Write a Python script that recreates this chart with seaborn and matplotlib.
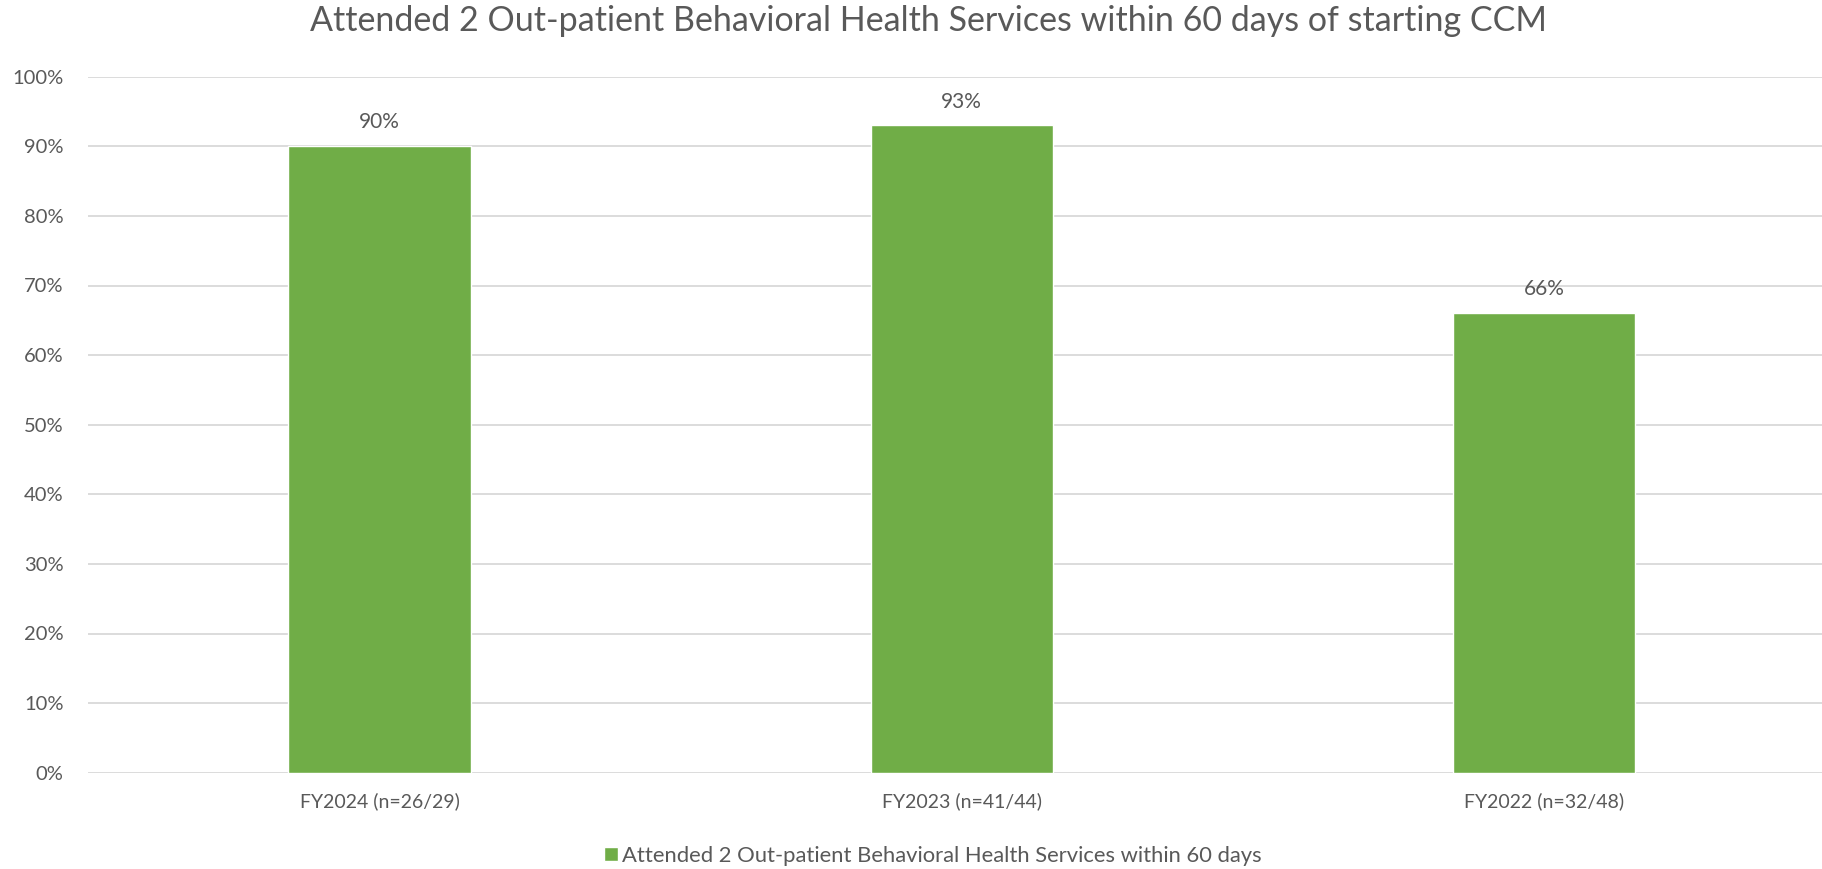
import matplotlib
matplotlib.use("Agg")
import matplotlib.pyplot as plt
import seaborn as sns
import pandas as pd
from matplotlib.ticker import PercentFormatter, MultipleLocator

# Chart data
categories = ["FY2024 (n=26/29)", "FY2023 (n=41/44)", "FY2022 (n=32/48)"]
rates = [0.90, 0.93, 0.66]
series_name = "Attended 2 Out-patient Behavioral Health Services within 60 days"
title = "Attended 2 Out-patient Behavioral Health Services within 60 days of starting CCM"

df = pd.DataFrame({"period": categories, "rate": rates})

sns.set_theme(style="white")
plt.rcParams["font.family"] = ["Lato", "DejaVu Sans"]

GREEN = "#70AD47"
TEXT = "#595959"
GRID = "#D9D9D9"

fig = plt.figure(figsize=(18.22, 8.69), dpi=100)
ax = fig.add_axes([88.4 / 1822, 1 - 772.7 / 869, (1835 - 88.4) / 1822, (772.7 - 76.7) / 869])

sns.barplot(data=df, x="period", y="rate", color=GREEN, width=0.313,
            saturation=1, ax=ax, label=series_name, zorder=3)
if ax.get_legend() is not None:
    ax.get_legend().remove()

ax.set_ylim(0, 1)
ax.set_xlim(-0.5, len(categories) - 0.5)
ax.yaxis.set_major_locator(MultipleLocator(0.1))
ax.yaxis.set_major_formatter(PercentFormatter(1.0, decimals=0))
ax.grid(axis="y", color=GRID, linewidth=1.3, zorder=0)
ax.set_axisbelow(True)
for s in ax.spines.values():
    s.set_visible(False)
ax.set_xlabel("")
ax.set_ylabel("")
ax.tick_params(axis="both", length=0, labelcolor=TEXT)
ax.tick_params(axis="x", labelsize=14, pad=14)
ax.tick_params(axis="y", labelsize=14.5, pad=18)

# Value labels above each bar
for container in ax.containers:
    ax.bar_label(container, labels=[f"{v:.0%}" for v in rates], padding=10,
                 fontsize=15, color=TEXT)

fig.text(929 / 1822, 1 - 21 / 869, title, ha="center", va="center",
         fontsize=24.5, color=TEXT)

handles, labels = ax.get_legend_handles_labels()
fig.legend(handles, labels, loc="center", bbox_to_anchor=(933 / 1822, 1 - 856 / 869),
           frameon=False, fontsize=15.8, labelcolor=TEXT, handlelength=0.6,
           handleheight=0.6, handletextpad=0.2)

fig.savefig("out.png", dpi=100)
